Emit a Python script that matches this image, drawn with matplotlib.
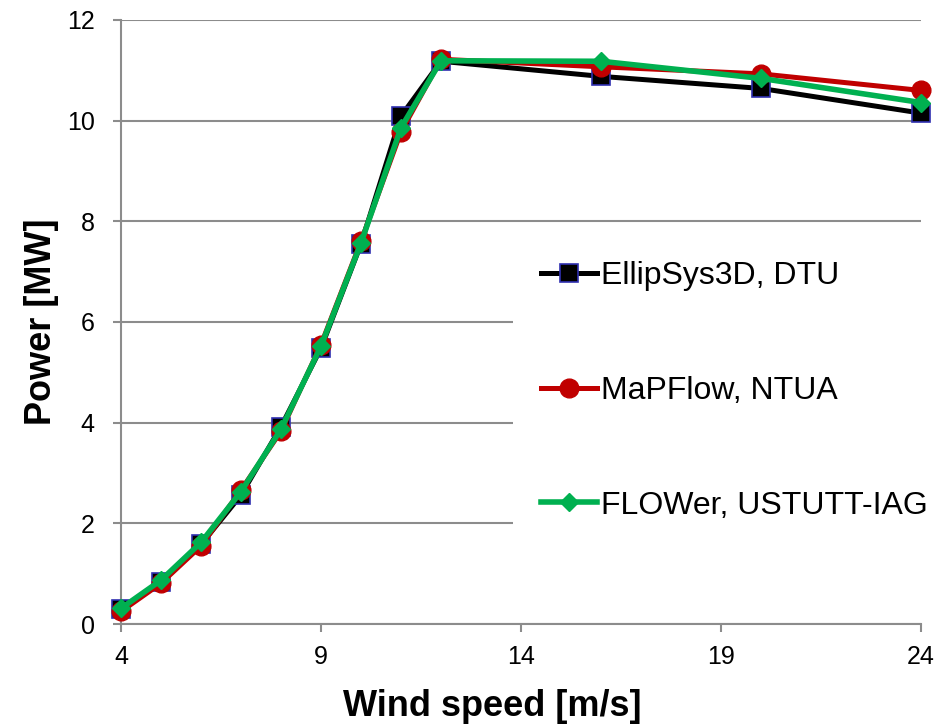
import matplotlib.pyplot as plt

plt.rcParams['font.family'] = ['Liberation Sans', 'DejaVu Sans']

# Wind speed [m/s]
wind = [4, 5, 6, 7, 8, 9, 10, 11, 12, 16, 20, 24]

# Power [MW] per code
ellipsys = [0.30, 0.83, 1.58, 2.56, 3.92, 5.48, 7.55, 10.09, 11.18, 10.88, 10.64, 10.15]
mapflow = [0.25, 0.81, 1.55, 2.66, 3.83, 5.55, 7.60, 9.78, 11.22, 11.07, 10.93, 10.60]
flower = [0.31, 0.87, 1.62, 2.63, 3.87, 5.52, 7.57, 9.86, 11.19, 11.18, 10.84, 10.36]

labels = ['EllipSys3D, DTU', 'MaPFlow, NTUA', 'FLOWer, USTUTT-IAG']

grid_col = '#8c8c8c'

fig = plt.figure(figsize=(9.47, 7.28), dpi=100)
ax = fig.add_axes([121 / 947, 104 / 728, 800 / 947, 604 / 728])

ax.plot(wind, ellipsys, color='black', lw=3.6, marker='s', ms=12.5,
        mfc='black', mec='#3030b0', mew=1.2, label=labels[0], clip_on=False, zorder=3)
ax.plot(wind, mapflow, color='#c00000', lw=3.6, marker='o', ms=13.5,
        mfc='#c00000', mec='#c00000', label=labels[1], clip_on=False, zorder=4)
ax.plot(wind, flower, color='#00b050', lw=4, marker='D', ms=9.5,
        mfc='#00b050', mec='#00b050', label=labels[2], clip_on=False, zorder=5)

ax.set_xlim(4, 24)
ax.set_ylim(0, 12)
ax.set_xticks([4, 9, 14, 19, 24])
ax.set_yticks(range(0, 13, 2))
ax.yaxis.grid(True, color=grid_col, lw=1.5)
ax.set_axisbelow(True)

for s in ['top', 'right']:
    ax.spines[s].set_visible(False)
for s in ['left', 'bottom']:
    ax.spines[s].set_color(grid_col)
    ax.spines[s].set_linewidth(1.5)
ax.tick_params(axis='both', colors=grid_col, length=6, width=1.5, labelsize=18,
               labelcolor='black')
ax.tick_params(axis='y', pad=13)
ax.tick_params(axis='x', pad=9)

ax.set_xlabel('Wind speed [m/s]', fontsize=26, fontweight='bold')
ax.set_ylabel('Power [MW]', fontsize=26, fontweight='bold')
ax.xaxis.set_label_coords(0.464, -0.107)
ax.yaxis.set_label_coords(-0.078, 0.5)

leg = ax.legend(loc='center left', bbox_to_anchor=(513 / 947, 0.463),
                bbox_transform=fig.transFigure, fontsize=23, frameon=True,
                framealpha=1, facecolor='white', edgecolor='none', fancybox=False,
                handlelength=1.75, handletextpad=0.13, labelspacing=2.65,
                borderpad=0.875, borderaxespad=0)
leg.set_zorder(10)

fig.savefig('out.png', dpi=100)
